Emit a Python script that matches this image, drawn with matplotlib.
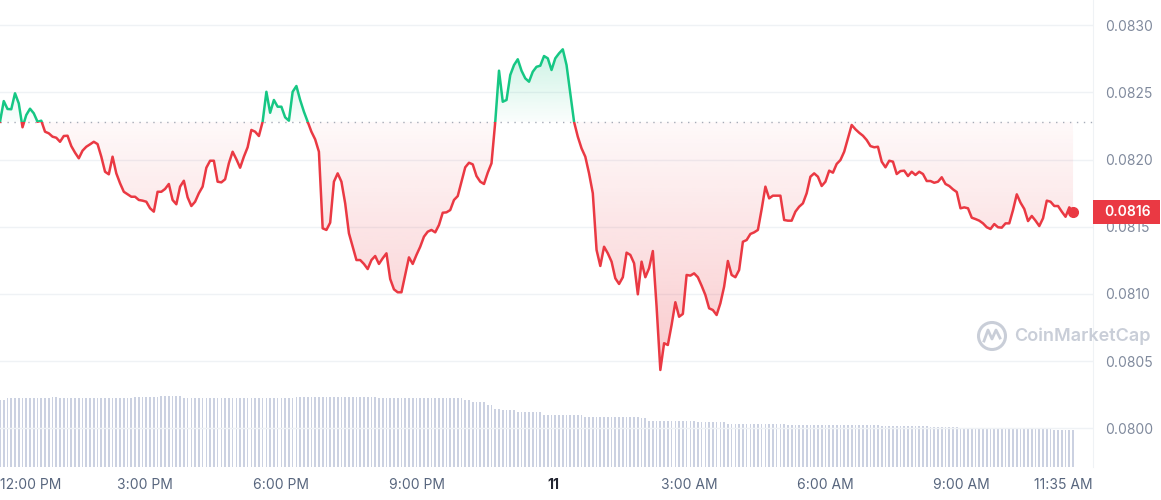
import numpy as np
import matplotlib
matplotlib.use("Agg")
from matplotlib import pyplot as plt
from matplotlib.patches import Rectangle, PathPatch, Circle
from matplotlib.path import Path
from matplotlib.lines import Line2D
from matplotlib.colors import to_rgb
from matplotlib.transforms import blended_transform_factory, ScaledTranslation

plt.rcParams['font.family'] = ['Inter', 'DejaVu Sans']

# 5-minute prices, 11:48 AM -> 11:35 AM next day
price = [
    0.082281, 0.082435, 0.082376, 0.082374, 0.082493, 0.082418, 0.082240, 0.082331, 0.082378, 0.082344,
    0.082281, 0.082289, 0.082207, 0.082195, 0.082170, 0.082162, 0.082132, 0.082175, 0.082177, 0.082100,
    0.082051, 0.082009, 0.082066, 0.082095, 0.082113, 0.082132, 0.082115, 0.082021, 0.081909, 0.081890,
    0.082021, 0.081897, 0.081823, 0.081760, 0.081741, 0.081723, 0.081723, 0.081699, 0.081694, 0.081686,
    0.081637, 0.081612, 0.081760, 0.081760, 0.081781, 0.081818, 0.081699, 0.081667, 0.081798, 0.081842,
    0.081719, 0.081654, 0.081686, 0.081749, 0.081798, 0.081939, 0.081991, 0.081991, 0.081835, 0.081830,
    0.081853, 0.081972, 0.082058, 0.082002, 0.081939, 0.082021, 0.082091, 0.082220, 0.082207, 0.082175,
    0.082281, 0.082504, 0.082348,
    0.082443, 0.082393, 0.082393, 0.082314, 0.082289, 0.082504, 0.082547, 0.082443, 0.082356, 0.082281,
    0.082207, 0.082150, 0.082058, 0.081488, 0.081476, 0.081530, 0.081835, 0.081897, 0.081835, 0.081674,
    0.081451, 0.081351, 0.081252, 0.081252, 0.081223, 0.081185, 0.081252, 0.081282, 0.081223, 0.081265,
    0.081302, 0.081111, 0.081034, 0.081012, 0.081012, 0.081141, 0.081272, 0.081223, 0.081290, 0.081351,
    0.081426, 0.081463, 0.081476, 0.081458, 0.081513, 0.081604, 0.081607, 0.081624, 0.081699, 0.081728,
    0.081835, 0.081942, 0.081976, 0.081964, 0.081877, 0.081835, 0.081818, 0.081902, 0.081972, 0.082281,
    0.082661, 0.082430, 0.082443, 0.082629, 0.082703, 0.082746, 0.082661, 0.082604, 0.082579, 0.082653,
    0.082690, 0.082698, 0.082770,
    0.082753, 0.082666, 0.082753, 0.082790, 0.082820, 0.082703, 0.082493, 0.082281, 0.082170, 0.082083,
    0.082021, 0.081897, 0.081749, 0.081327, 0.081208, 0.081351, 0.081302, 0.081240, 0.081116, 0.081074,
    0.081124, 0.081307, 0.081290, 0.081228, 0.080997, 0.081240, 0.081124, 0.081191, 0.081319, 0.080905,
    0.080434, 0.080633, 0.080620, 0.080769, 0.080938, 0.080830, 0.080851, 0.081141, 0.081136, 0.081153,
    0.081124, 0.081061, 0.080992, 0.080893, 0.080880, 0.080843, 0.080930, 0.081054, 0.081245, 0.081141,
    0.081124, 0.081178, 0.081388, 0.081401, 0.081446, 0.081458, 0.081476, 0.081630, 0.081798, 0.081711,
    0.081731, 0.081731, 0.081731, 0.081550, 0.081545, 0.081545, 0.081612, 0.081649, 0.081674, 0.081749,
    0.081872, 0.081897, 0.081872,
    0.081803, 0.081835, 0.081917, 0.081902, 0.081967, 0.081996, 0.082058, 0.082158, 0.082257, 0.082225,
    0.082199, 0.082177, 0.082145, 0.082100, 0.082091, 0.082095, 0.081984, 0.081942, 0.081991, 0.081984,
    0.081892, 0.081914, 0.081917, 0.081877, 0.081909, 0.081885, 0.081909, 0.081892, 0.081840, 0.081840,
    0.081827, 0.081835, 0.081868, 0.081818, 0.081803, 0.081778, 0.081758, 0.081637, 0.081644, 0.081637,
    0.081567, 0.081557, 0.081545, 0.081525, 0.081496, 0.081483, 0.081520, 0.081496, 0.081493, 0.081525,
    0.081525, 0.081624, 0.081741, 0.081679, 0.081632, 0.081542, 0.081580, 0.081545, 0.081505, 0.081563,
    0.081694, 0.081686, 0.081654, 0.081654, 0.081612, 0.081574, 0.081644, 0.081607,
]
open_price = 0.08228

# volume bars: height levels and how many bars stay at each level
vol_levels = [67.1, 69.0, 70.5, 69.0, 70.5, 69.8, 70.9, 69.4, 68.6, 69.8, 70.5, 69.8, 68.6,
              69.4, 68.6, 67.1, 65.2, 62.1, 58.3, 57.1, 55.2, 52.5, 51.8, 50.25, 48.8, 45.8,
              44.7, 43.2, 42.5, 41.4, 40.25, 39.1, 37.3]
vol_runs = [2, 12, 2, 20, 4, 3, 6, 28, 2, 9, 2, 11, 5, 4, 14, 2, 4, 2, 2, 4, 7, 9, 2, 15,
            2, 13, 8, 16, 25, 13, 8, 25, 6]

tick_hours = [0, 3, 6, 9, 12, 15, 18, 21]
tick_labels = ["12:00 PM", "3:00 PM", "6:00 PM", "9:00 PM", "11", "3:00 AM", "6:00 AM", "9:00 AM"]
end_label = "11:35 AM"
yticks = [0.0800, 0.0805, 0.0810, 0.0815, 0.0820, 0.0825, 0.0830]

GREEN = "#16c784"
RED = "#ea3943"

price = np.array(price)
t = np.linspace(-0.2, 23.47, len(price))
volume = np.repeat(vol_levels, vol_runs)
xmin, xmax = -0.2, 23.91
ymin, ymax = 0.079712, 0.083187

fig = plt.figure(figsize=(11.61, 5.0), dpi=100)
ax = fig.add_axes([0, 33 / 500, 1093 / 1161, 467 / 500])
axv = ax.twinx()
ax.set_zorder(axv.get_zorder() + 1)
ax.patch.set_visible(False)

# volume
axv.bar(t, volume, width=(t[1] - t[0]) * 0.45, color="#cbd1e1", linewidth=0)
axv.set_ylim(0, 467)
axv.set_yticks([])
for s in axv.spines.values():
    s.set_visible(False)

# gradient fills
def grad_fill(poly, y0, y1, color, a_bottom, a_top):
    clip = PathPatch(Path.make_compound_path(*poly.get_paths()), transform=ax.transData,
                     fc="none", ec="none")
    ax.add_patch(clip)
    rgba = np.zeros((256, 1, 4))
    rgba[..., :3] = to_rgb(color)
    rgba[:, 0, 3] = np.linspace(a_bottom, a_top, 256)
    im = ax.imshow(rgba, extent=[t[0], t[-1], y0, y1], origin="lower", aspect="auto",
                   interpolation="bilinear", zorder=1)
    im.set_clip_path(clip)

red_poly = ax.fill_between(t, price, open_price, where=price <= open_price, interpolate=True,
                           fc="none", ec="none")
green_poly = ax.fill_between(t, price, open_price, where=price >= open_price, interpolate=True,
                             fc="none", ec="none")
grad_fill(red_poly, price.min(), open_price, RED, 0.27, 0.03)
grad_fill(green_poly, open_price, price.max(), GREEN, 0.02, 0.22)

# line split at the open price
above = Rectangle((xmin, open_price), xmax - xmin, ymax - open_price, transform=ax.transData)
below = Rectangle((xmin, ymin), xmax - xmin, open_price - ymin, transform=ax.transData)
lg, = ax.plot(t, price, color=GREEN, lw=1.8, zorder=3, solid_joinstyle="round")
lg.set_clip_path(above)
lr, = ax.plot(t, price, color=RED, lw=1.8, zorder=3, solid_joinstyle="round")
lr.set_clip_path(below)
ax.plot(t[-1], price[-1], "o", color=RED, ms=7, zorder=4)

ax.axhline(open_price, color="#a6acb8", lw=1, ls=(0, (1, 4)), zorder=2)

ax.set_xlim(xmin, xmax)
ax.set_ylim(ymin, ymax)
ax.set_yticks(yticks)
ax.set_yticklabels([f"{v:.4f}" for v in yticks])
ax.yaxis.tick_right()
ax.grid(axis="y", color="#eff2f5", lw=1)
ax.set_axisbelow(True)
ax.tick_params(axis="y", length=0, pad=9, labelsize=10, labelcolor="#808a9d")
ax.tick_params(axis="x", length=0, pad=8, labelsize=10, labelcolor="#58667e")
ax.set_xticks(tick_hours + [xmax])
ax.set_xticklabels(tick_labels + [end_label])
labels = ax.get_xticklabels()
labels[0].set_ha("left")
labels[0].set_transform(labels[0].get_transform() + ScaledTranslation(-0.09, 0, fig.dpi_scale_trans))
labels[4].set_fontweight("bold")
labels[4].set_color("#222531")
labels[-1].set_ha("right")
for name, s in ax.spines.items():
    s.set_visible(name == "right")
ax.spines["right"].set_color("#eff2f5")

# current price tag
bt = blended_transform_factory(ax.transAxes, ax.transData)
tag_h = 0.000089
ax.add_patch(Rectangle((1.0, price[-1] - tag_h), 67 / 1093, 2 * tag_h, transform=bt,
                       fc=RED, ec="none", clip_on=False, zorder=5))
ax.text(1.0 + 11 / 1093, price[-1], f"{price[-1]:.4f}", transform=bt, ha="left", va="center",
        color="white", fontsize=10, fontweight="semibold", zorder=6, clip_on=False)

# watermark
fig.text(1014 / 1161, 1 - 336 / 500, "CoinMarketCap", ha="left", va="center",
         fontsize=13, fontweight="semibold", color="#c9ced8")
fig.add_artist(Circle((9.92, 1.64), 0.135, transform=fig.dpi_scale_trans,
                      fc="none", ec="#c9ced8", lw=2.2))
fig.add_artist(Line2D([9.84, 9.88, 9.92, 9.96, 10.0], [1.59, 1.70, 1.61, 1.70, 1.62],
                      transform=fig.dpi_scale_trans, color="#c9ced8", lw=2))

fig.savefig("out.png", dpi=100, facecolor="white")
